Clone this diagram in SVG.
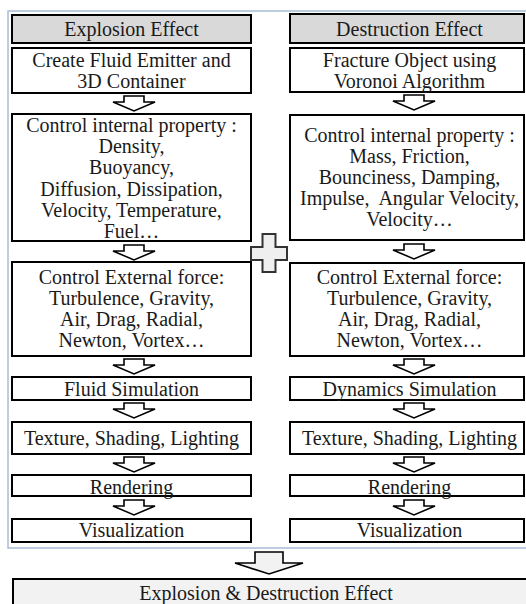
<svg xmlns="http://www.w3.org/2000/svg" width="526" height="604" viewBox="0 0 526 604">
<defs>
<polygon id="sa" points="-10,0 10,0 10,6 21,6 0,15 -21,6 -10,6" fill="#fff" stroke="#000" stroke-width="1.6"/>
</defs>
<rect x="8" y="11" width="540" height="537" fill="#fff" stroke="#a9bcd6" stroke-width="1.5"/>

<g id="connectors">
<use href="#sa" x="134" y="96"/>
<use href="#sa" x="134" y="245"/>
<use href="#sa" x="134" y="359"/>
<use href="#sa" x="134" y="403"/>
<use href="#sa" x="134" y="457"/>
<use href="#sa" x="134" y="500"/>
<use href="#sa" x="414" y="95"/>
<use href="#sa" x="414" y="244"/>
<use href="#sa" x="414" y="359"/>
<use href="#sa" x="414" y="403"/>
<use href="#sa" x="414" y="457"/>
<use href="#sa" x="414" y="500"/>
<polygon points="255,552 283,552 283,563 303,563 269,574 235,563 255,563" fill="#f2f2f2" stroke="#000" stroke-width="1.6"/>
</g>

<g id="L1"><rect x="12" y="15" width="239" height="28" fill="#d9d9d9" stroke="#000" stroke-width="2"/><text x="131.5" y="36" font-family="Liberation Serif" font-size="20" fill="#1a1a1a" text-anchor="middle">Explosion Effect</text></g>
<g id="L2"><rect x="12" y="48" width="239" height="45" fill="#fff" stroke="#000" stroke-width="2"/><text x="131.5" y="67" font-family="Liberation Serif" font-size="20" fill="#1a1a1a" text-anchor="middle">Create Fluid Emitter and</text><text x="131.5" y="88" font-family="Liberation Serif" font-size="20" fill="#1a1a1a" text-anchor="middle">3D Container</text></g>
<g id="L3"><rect x="12" y="114" width="239" height="127" fill="#fff" stroke="#000" stroke-width="2"/>
<text x="131.5" y="132" font-family="Liberation Serif" font-size="20" fill="#1a1a1a" text-anchor="middle">Control internal property :</text>
<text x="131.5" y="153" font-family="Liberation Serif" font-size="20" fill="#1a1a1a" text-anchor="middle">Density,</text>
<text x="131.5" y="174" font-family="Liberation Serif" font-size="20" fill="#1a1a1a" text-anchor="middle">Buoyancy,</text>
<text x="131.5" y="196" font-family="Liberation Serif" font-size="20" fill="#1a1a1a" text-anchor="middle">Diffusion, Dissipation,</text>
<text x="131.5" y="217" font-family="Liberation Serif" font-size="20" fill="#1a1a1a" text-anchor="middle">Velocity, Temperature,</text>
<text x="131.5" y="238" font-family="Liberation Serif" font-size="20" fill="#1a1a1a" text-anchor="middle">Fuel…</text></g>
<g id="L4"><rect x="12" y="262" width="239" height="94" fill="#fff" stroke="#000" stroke-width="2"/>
<text x="131.5" y="284" font-family="Liberation Serif" font-size="20" fill="#1a1a1a" text-anchor="middle">Control External force:</text>
<text x="131.5" y="305" font-family="Liberation Serif" font-size="20" fill="#1a1a1a" text-anchor="middle">Turbulence, Gravity,</text>
<text x="131.5" y="326" font-family="Liberation Serif" font-size="20" fill="#1a1a1a" text-anchor="middle">Air, Drag, Radial,</text>
<text x="131.5" y="347" font-family="Liberation Serif" font-size="20" fill="#1a1a1a" text-anchor="middle">Newton, Vortex…</text></g>
<g id="L5"><rect x="12" y="377" width="239" height="23" fill="#fff" stroke="#000" stroke-width="2"/><text x="131.5" y="396" font-family="Liberation Serif" font-size="20" fill="#1a1a1a" text-anchor="middle">Fluid Simulation</text></g>
<g id="L6"><rect x="12" y="422" width="239" height="32" fill="#fff" stroke="#000" stroke-width="2"/><text x="131.5" y="445" font-family="Liberation Serif" font-size="20" fill="#1a1a1a" text-anchor="middle">Texture, Shading, Lighting</text></g>
<g id="L7"><rect x="12" y="475" width="239" height="21" fill="#fff" stroke="#000" stroke-width="2"/><text x="131.5" y="494" font-family="Liberation Serif" font-size="20" fill="#1a1a1a" text-anchor="middle">Rendering</text></g>
<g id="L8"><rect x="12" y="519" width="239" height="23" fill="#fff" stroke="#000" stroke-width="2"/><text x="131.5" y="537" font-family="Liberation Serif" font-size="20" fill="#1a1a1a" text-anchor="middle">Visualization</text></g>

<g id="R1"><rect x="290" y="14" width="234" height="29" fill="#d9d9d9" stroke="#000" stroke-width="2"/><text x="409.5" y="36" font-family="Liberation Serif" font-size="20" fill="#1a1a1a" text-anchor="middle">Destruction Effect</text></g>
<g id="R2"><rect x="290" y="48" width="234" height="44" fill="#fff" stroke="#000" stroke-width="2"/><text x="409.5" y="67" font-family="Liberation Serif" font-size="20" fill="#1a1a1a" text-anchor="middle">Fracture Object using</text><text x="409.5" y="88" font-family="Liberation Serif" font-size="20" fill="#1a1a1a" text-anchor="middle">Voronoi Algorithm</text></g>
<g id="R3"><rect x="290" y="115" width="234" height="125" fill="#fff" stroke="#000" stroke-width="2"/>
<text x="409.5" y="142" font-family="Liberation Serif" font-size="20" fill="#1a1a1a" text-anchor="middle">Control internal property :</text>
<text x="409.5" y="163" font-family="Liberation Serif" font-size="20" fill="#1a1a1a" text-anchor="middle">Mass, Friction,</text>
<text x="409.5" y="184" font-family="Liberation Serif" font-size="20" fill="#1a1a1a" text-anchor="middle">Bounciness, Damping,</text>
<text x="409.5" y="205" font-family="Liberation Serif" font-size="20" fill="#1a1a1a" text-anchor="middle">Impulse,&#160; Angular Velocity,</text>
<text x="409.5" y="226" font-family="Liberation Serif" font-size="20" fill="#1a1a1a" text-anchor="middle">Velocity…</text></g>
<g id="R4"><rect x="290" y="263" width="234" height="93" fill="#fff" stroke="#000" stroke-width="2"/>
<text x="409.5" y="284" font-family="Liberation Serif" font-size="20" fill="#1a1a1a" text-anchor="middle">Control External force:</text>
<text x="409.5" y="305" font-family="Liberation Serif" font-size="20" fill="#1a1a1a" text-anchor="middle">Turbulence, Gravity,</text>
<text x="409.5" y="326" font-family="Liberation Serif" font-size="20" fill="#1a1a1a" text-anchor="middle">Air, Drag, Radial,</text>
<text x="409.5" y="347" font-family="Liberation Serif" font-size="20" fill="#1a1a1a" text-anchor="middle">Newton, Vortex…</text></g>
<g id="R5"><rect x="290" y="377" width="234" height="23" fill="#fff" stroke="#000" stroke-width="2"/><text x="409.5" y="396" font-family="Liberation Serif" font-size="20" fill="#1a1a1a" text-anchor="middle">Dynamics Simulation</text></g>
<g id="R6"><rect x="290" y="422" width="234" height="32" fill="#fff" stroke="#000" stroke-width="2"/><text x="409.5" y="445" font-family="Liberation Serif" font-size="20" fill="#1a1a1a" text-anchor="middle">Texture, Shading, Lighting</text></g>
<g id="R7"><rect x="290" y="475" width="234" height="21" fill="#fff" stroke="#000" stroke-width="2"/><text x="409.5" y="494" font-family="Liberation Serif" font-size="20" fill="#1a1a1a" text-anchor="middle">Rendering</text></g>
<g id="R8"><rect x="290" y="519" width="234" height="23" fill="#fff" stroke="#000" stroke-width="2"/><text x="409.5" y="537" font-family="Liberation Serif" font-size="20" fill="#1a1a1a" text-anchor="middle">Visualization</text></g>

<g id="plus"><path d="M262.5,234 h13 v13 h11.5 v13 h-11.5 v12 h-13 v-12 h-11.5 v-13 h11.5 z" fill="#efefef" stroke="#333" stroke-width="2"/></g>

<g id="final"><rect x="13" y="579" width="540" height="40" fill="#f2f2f2" stroke="#000" stroke-width="2"/><text x="266" y="600" font-family="Liberation Serif" font-size="20" fill="#1a1a1a" text-anchor="middle">Explosion &amp; Destruction Effect</text></g>
</svg>
